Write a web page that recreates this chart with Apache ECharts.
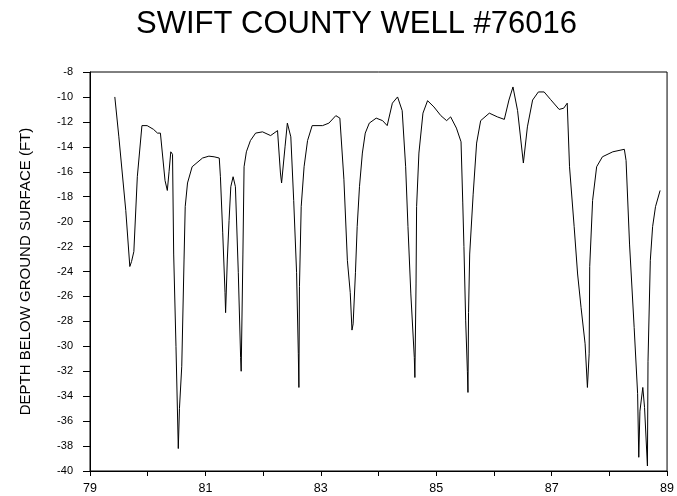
<!DOCTYPE html>
<html>
<head>
<meta charset="utf-8">
<script src="https://cdn.jsdelivr.net/npm/echarts@6/dist/echarts.min.js"></script>
<style>
html,body{margin:0;padding:0;background:#fff;}
#chart{width:677px;height:496px;}
</style>
</head>
<body>
<div id="chart"></div>
<script>
var titleText = 'SWIFT COUNTY WELL #76016';
var yAxisName = 'DEPTH BELOW GROUND SURFACE (FT)';

var years = [
  79.43, 79.50, 79.62, 79.69, 79.72, 79.76, 79.82, 79.90, 79.99, 80.10,
  80.17, 80.22, 80.30, 80.34, 80.37, 80.40, 80.43, 80.45, 80.49, 80.53,
  80.55, 80.59, 80.63, 80.65, 80.69, 80.77, 80.95, 81.06, 81.15, 81.24,
  81.26, 81.30, 81.34, 81.35, 81.38, 81.41, 81.44, 81.48, 81.52, 81.57,
  81.61, 81.62, 81.65, 81.67, 81.71, 81.78, 81.87, 81.99, 82.13, 82.25,
  82.30, 82.32, 82.38, 82.42, 82.48, 82.53, 82.58, 82.61, 82.62, 82.63,
  82.66, 82.71, 82.77, 82.85, 83.03, 83.14, 83.26, 83.33, 83.40, 83.46,
  83.51, 83.54, 83.56, 83.60, 83.63, 83.67, 83.72, 83.77, 83.84, 83.96,
  84.07, 84.15, 84.24, 84.33, 84.41, 84.47, 84.51, 84.56, 84.62, 84.63,
  84.65, 84.66, 84.70, 84.77, 84.85, 84.96, 85.08, 85.18, 85.25, 85.35,
  85.43, 85.46, 85.48, 85.51, 85.54, 85.55, 85.56, 85.58, 85.64, 85.70,
  85.77, 85.92, 86.06, 86.18, 86.26, 86.33, 86.41, 86.51, 86.58, 86.67,
  86.77, 86.87, 86.98, 87.13, 87.21, 87.27, 87.31, 87.39, 87.45, 87.51,
  87.58, 87.62, 87.65, 87.66, 87.71, 87.78, 87.88, 88.06, 88.26, 88.29,
  88.35, 88.43, 88.49, 88.51, 88.53, 88.58, 88.61, 88.66, 88.67, 88.71,
  88.75, 88.80, 88.88
];

var depths = [
  -10.0, -13.2, -19.1, -23.6, -23.2, -22.4, -16.4, -12.3, -12.3, -12.6,
  -12.9, -12.9, -16.7, -17.5, -16.0, -14.4, -14.6, -22.6, -30.0, -38.2,
  -35.0, -31.6, -23.0, -18.8, -16.9, -15.6, -14.9, -14.75, -14.8, -14.9,
  -16.4, -20.9, -25.7, -27.3, -23.0, -19.9, -17.2, -16.4, -17.2, -24.1,
  -30.9, -32.0, -22.6, -15.6, -14.4, -13.5, -12.9, -12.8, -13.1, -12.7,
  -16.1, -16.9, -14.0, -12.1, -13.2, -18.3, -24.1, -30.6, -33.3, -25.2,
  -18.8, -15.6, -13.5, -12.3, -12.3, -12.1, -11.5, -11.7, -16.6, -23.1,
  -25.7, -28.7, -28.2, -24.1, -20.4, -17.2, -14.5, -12.9, -12.1, -11.7,
  -11.9, -12.3, -10.5, -10.0, -11.1, -15.6, -20.4, -25.8, -30.9, -32.5,
  -25.0, -18.8, -14.5, -11.3, -10.3, -10.8, -11.5, -11.9, -11.6, -12.5,
  -13.6, -18.5, -22.0, -27.9, -32.0, -33.7, -27.3, -22.6, -17.8, -13.7,
  -11.9, -11.3, -11.6, -11.8, -10.25, -9.2, -11.1, -15.3, -12.4, -10.25,
  -9.6, -9.6, -10.2, -11.0, -10.9, -10.5, -15.6, -20.4, -24.2, -26.9,
  -29.8, -33.3, -30.6, -23.6, -18.3, -15.6, -14.8, -14.4, -14.2, -15.1,
  -21.8, -28.5, -33.8, -38.9, -35.2, -33.3, -34.9, -39.6, -31.2, -23.1,
  -20.4, -18.8, -17.5
];

var xMin = 79, xMax = 89, xStep = 1;
var yMin = -40, yMax = -8, yStep = 2;

var seriesData = years.map(function (y, i) { return [y, depths[i]]; });

var chart = echarts.init(document.getElementById('chart'), null, {renderer: 'canvas'});
var fontFam = '"Liberation Sans", Arial, Helvetica, sans-serif';
chart.setOption({
  backgroundColor: '#ffffff',
  animation: false,
  title: {
    text: titleText,
    left: 131,
    top: 4,
    textStyle: {fontFamily: fontFam, fontSize: 31, fontWeight: 'normal', color: '#000'}
  },
  grid: {
    left: 90, right: 8, top: 72, bottom: 25,
    show: true, borderColor: '#000', borderWidth: 1, backgroundColor: 'transparent'
  },
  xAxis: {
    type: 'value',
    min: xMin, max: xMax, interval: xStep,
    axisLine: {show: true, lineStyle: {color: '#000', width: 1}},
    axisTick: {show: true, inside: false, length: 5, lineStyle: {color: '#000'}},
    splitLine: {show: false},
    axisLabel: {
      margin: 11,
      color: '#000',
      fontFamily: fontFam,
      fontSize: 12.5,
      formatter: function (v) { return (Math.round(v) % 2 !== 0) ? String(Math.round(v)) : ''; }
    }
  },
  yAxis: {
    type: 'value',
    min: yMin, max: yMax, interval: yStep,
    name: yAxisName,
    nameLocation: 'middle',
    nameGap: 57,
    nameRotate: 90,
    nameTextStyle: {fontFamily: fontFam, fontSize: 15, color: '#000'},
    axisLine: {show: true, lineStyle: {color: '#000', width: 1}},
    axisTick: {show: true, inside: false, length: 7, lineStyle: {color: '#000'}},
    splitLine: {show: false},
    axisLabel: {margin: 17, color: '#000', fontFamily: fontFam, fontSize: 11}
  },
  series: [{
    type: 'line',
    data: seriesData,
    showSymbol: false,
    symbol: 'none',
    smooth: false,
    lineStyle: {color: '#000', width: 1},
    z: 3
  }]
});
</script>
</body>
</html>
